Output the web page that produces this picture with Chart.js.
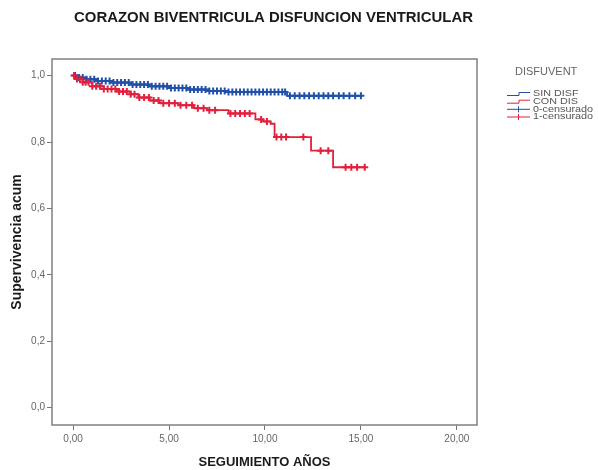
<!DOCTYPE html>
<html>
<head>
<meta charset="utf-8">
<script src="https://cdn.jsdelivr.net/npm/chart.js@4.4.0/dist/chart.umd.min.js"></script>
<style>
html, body { margin: 0; padding: 0; background: #fff; }
#wrap { width: 598px; height: 470px; }
</style>
</head>
<body>
<div id="wrap"><canvas id="km"></canvas></div>
<script>
const xTicks = [0, 5, 10, 15, 20];
const yTicks = [0, 0.2, 0.4, 0.6, 0.8, 1.0];
const groups = ['SIN DISF', 'CON DIS'];
const censorLabels = ['0-censurado', '1-censurado'];

// Kaplan-Meier steps: time and survival from that time on
const sinTime = [0, 0.3, 0.7, 1.2, 2.0, 3.0, 4.0, 5.0, 6.0, 7.0, 8.0, 11.15, 15.05];
const sinSurv = [1.0, 0.994, 0.989, 0.984, 0.979, 0.973, 0.968, 0.963, 0.958, 0.954, 0.951, 0.939, 0.939];
const sinCens = [0.1, 0.3, 0.5, 0.7, 0.9, 1.1, 1.3, 1.5, 1.7, 1.9, 2.1, 2.3, 2.5, 2.7, 2.9, 3.1, 3.3, 3.5,
  3.7, 3.9, 4.1, 4.3, 4.5, 4.7, 4.9, 5.1, 5.3, 5.5, 5.7, 5.9, 6.1, 6.3, 6.5, 6.7, 6.9, 7.1, 7.3, 7.5,
  7.7, 7.9, 8.1, 8.3, 8.5, 8.7, 8.9, 9.1, 9.3, 9.5, 9.7, 9.9, 10.1, 10.3, 10.5, 10.7, 10.9, 11.05,
  11.3, 11.55, 11.8, 12.05, 12.3, 12.55, 12.8, 13.05, 13.3, 13.55, 13.85, 14.1, 14.4, 14.7, 15.0];

const conTime = [0, 0.2, 0.5, 1.0, 1.6, 2.3, 3.0, 3.4, 4.0, 4.5, 5.5, 6.3, 7.0, 8.1, 9.5, 9.9, 10.3, 10.5, 12.4, 13.55, 15.2];
const conSurv = [1.0, 0.99, 0.98, 0.968, 0.96, 0.952, 0.944, 0.934, 0.925, 0.917, 0.911, 0.902, 0.896, 0.886, 0.868, 0.862, 0.855, 0.815, 0.774, 0.724, 0.724];
const conCens = [0.05, 0.2, 0.35, 0.5, 0.65, 0.8, 1.0, 1.2, 1.4, 1.6, 1.8, 2.0, 2.2, 2.4, 2.6, 2.8, 3.0,
  3.2, 3.45, 3.7, 3.95, 4.2, 4.45, 4.7, 5.0, 5.3, 5.6, 5.9, 6.2, 6.5, 6.8, 7.1, 7.4, 8.2, 8.45, 8.7,
  8.95, 9.2, 9.8, 10.1, 10.6, 10.85, 11.1, 12.0, 12.9, 13.3, 14.2, 14.5, 14.8, 15.2];

const blue = 'rgb(32, 80, 168)';
const red = 'rgb(226, 32, 62)';

function steps(times, surv) {
  return times.map((t, i) => ({ x: t, y: surv[i] }));
}

// survival value at time t
function survAt(times, surv, t) {
  let s = surv[0];
  for (let i = 0; i < times.length; i++) {
    if (times[i] <= t) s = surv[i];
  }
  return s;
}

function censored(list, times, surv) {
  return list.map(t => ({ x: t, y: survAt(times, surv, t) }));
}

const titlePlugin = {
  id: 'spssText',
  afterDraw(chart) {
    const ctx = chart.ctx;
    const a = chart.chartArea;
    ctx.save();
    // frame round the plot
    ctx.strokeStyle = '#808080';
    ctx.lineWidth = 1.5;
    ctx.strokeRect(a.left, a.top, a.right - a.left, a.bottom - a.top);

    // title, slightly condensed
    ctx.fillStyle = '#1a1a1a';
    ctx.font = 'bold 15px "Liberation Sans"';
    ctx.textBaseline = 'middle';
    ctx.textAlign = 'left';
    const title = 'CORAZON BIVENTRICULA DISFUNCION VENTRICULAR';
    const w = ctx.measureText(title).width;
    ctx.save();
    ctx.translate(74, 18);
    ctx.scale(399 / w, 1);
    ctx.fillText(title, 0, 0);
    ctx.restore();

    // legend
    ctx.fillStyle = '#666';
    ctx.font = '11px "Liberation Sans"';
    ctx.fillText('DISFUVENT', 515, 72);
    ctx.font = '9px "Liberation Sans"';
    const rows = [94, 101.7, 109.3, 117];
    const cols = [blue, red, blue, red];
    const texts = [groups[0], groups[1], censorLabels[0], censorLabels[1]];
    rows.forEach((y, i) => {
      ctx.strokeStyle = cols[i];
      ctx.lineWidth = 1;
      ctx.beginPath();
      if (i < 2) {
        ctx.moveTo(507, y + 1.5);
        ctx.lineTo(519, y + 1.5);
        ctx.lineTo(519, y - 1.5);
        ctx.lineTo(530, y - 1.5);
      } else {
        ctx.moveTo(507, y);
        ctx.lineTo(530, y);
        ctx.moveTo(518.5, y - 3);
        ctx.lineTo(518.5, y + 3);
      }
      ctx.stroke();
      ctx.fillStyle = '#555';
      ctx.save();
      ctx.translate(533, y);
      ctx.scale(1.2, 1);
      ctx.fillText(texts[i], 0, 0);
      ctx.restore();
    });
    ctx.restore();
  }
};

const ctx = document.getElementById('km').getContext('2d');

const kmChart = new Chart(ctx, {
  type: 'line',
  data: {
    datasets: [
      {
        label: censorLabels[1],
        data: censored(conCens, conTime, conSurv),
        showLine: false,
        pointStyle: 'cross',
        pointRadius: 3.5,
        borderColor: red,
        borderWidth: 2,
        order: 0
      },
      {
        label: groups[1],
        data: steps(conTime, conSurv),
        stepped: true,
        borderColor: red,
        borderWidth: 1.8,
        pointRadius: 0,
        order: 1
      },
      {
        label: censorLabels[0],
        data: censored(sinCens, sinTime, sinSurv),
        showLine: false,
        pointStyle: 'cross',
        pointRadius: 3.5,
        borderColor: blue,
        borderWidth: 2,
        order: 2
      },
      {
        label: groups[0],
        data: steps(sinTime, sinSurv),
        stepped: true,
        borderColor: blue,
        borderWidth: 1.8,
        pointRadius: 0,
        order: 3
      }
    ]
  },
  options: {
    responsive: true,
    maintainAspectRatio: false,
    animation: false,
    layout: { padding: { top: 59, right: 121, left: 0, bottom: 0 } },
    plugins: {
      legend: { display: false },
      title: { display: false },
      tooltip: { enabled: false }
    },
    scales: {
      x: {
        type: 'linear',
        min: -1.1,
        max: 21.05,
        afterFit: s => { s.height = 45; },
        afterBuildTicks: s => { s.ticks = xTicks.map(v => ({ value: v })); },
        grid: { drawOnChartArea: false, drawTicks: true, tickLength: 5, color: '#777' },
        border: { display: false },
        ticks: {
          color: '#666',
          font: { family: 'Liberation Sans', size: 10 },
          padding: 3,
          maxRotation: 0,
          callback: v => v.toFixed(2).replace('.', ',')
        },
        title: {
          display: true,
          text: 'SEGUIMIENTO AÑOS',
          color: '#1a1a1a',
          font: { family: 'Liberation Sans', size: 13, weight: 'bold' },
          padding: { top: 0, bottom: 0 }
        }
      },
      y: {
        min: -0.052,
        max: 1.05,
        afterFit: s => { s.width = 52; },
        afterBuildTicks: s => { s.ticks = yTicks.map(v => ({ value: v })); },
        grid: { drawOnChartArea: false, drawTicks: true, tickLength: 5, color: '#777' },
        border: { display: false },
        ticks: {
          color: '#666',
          font: { family: 'Liberation Sans', size: 10 },
          padding: 2,
          callback: v => v.toFixed(1).replace('.', ',')
        },
        title: {
          display: true,
          text: 'Supervivencia acum',
          color: '#1a1a1a',
          font: { family: 'Liberation Sans', size: 14, weight: 'bold' },
          padding: { top: 9, bottom: 0 }
        }
      }
    }
  },
  plugins: [titlePlugin]
});
</script>
</body>
</html>
